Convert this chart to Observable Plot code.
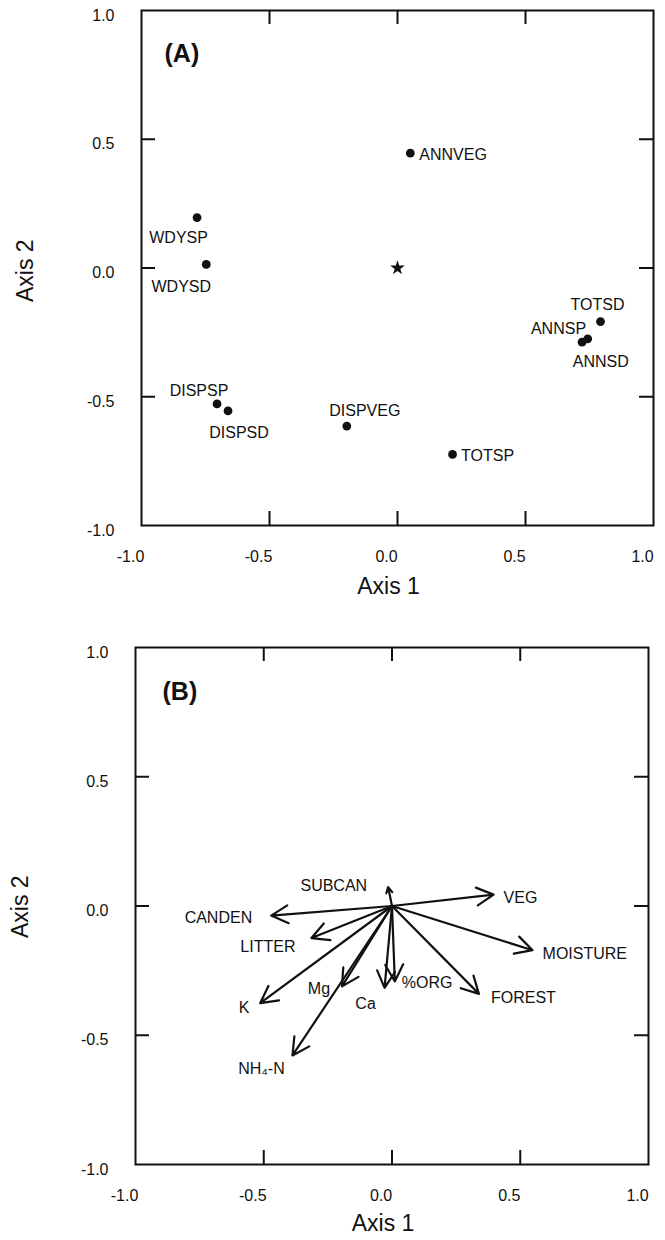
<!DOCTYPE html>
<html>
<head>
<meta charset="utf-8">
<script src="https://cdn.jsdelivr.net/npm/d3@7"></script>
<script src="https://cdn.jsdelivr.net/npm/@observablehq/plot@0.6"></script>
<style>
  body { margin: 0; background: #fff; }
  #chart svg { display: block; }
</style>
</head>
<body>
<div id="chart"></div>
<script>
// ---------- Panel (A): species-group scores ----------
const groupNames = ["WDYSP", "WDYSD", "ANNVEG", "TOTSD", "ANNSP", "ANNSD", "DISPSP", "DISPSD", "DISPVEG", "TOTSP"];
const groupAxis1 = [-0.783, -0.747, 0.050, 0.793, 0.721, 0.743, -0.705, -0.662, -0.198, 0.215];
const groupAxis2 = [0.196, 0.014, 0.446, -0.208, -0.288, -0.275, -0.528, -0.555, -0.614, -0.724];
const centroidAxis1 = [0.0];
const centroidAxis2 = [0.0];

// ---------- Panel (B): environmental vectors ----------
const envNames = ["SUBCAN", "VEG", "CANDEN", "LITTER", "MOISTURE", "K", "Mg", "Ca", "%ORG", "FOREST", "NH\u2084-N"];
const envAxis1 = [-0.015, 0.396, -0.471, -0.314, 0.548, -0.514, -0.195, -0.029, 0.011, 0.339, -0.388];
const envAxis2 = [0.073, 0.044, -0.037, -0.124, -0.171, -0.376, -0.311, -0.317, -0.292, -0.340, -0.578];

// ---------- Axes ----------
const tickValues = [-1, -0.5, 0, 0.5, 1];
const innerTickValues = [-0.5, 0, 0.5];
const xTitle = "Axis 1";
const yTitle = "Axis 2";

// ---------- Label placement (styling, pixels) ----------
const placeA = {
  WDYSP:   {a: "middle", dx: -18.5, dy: 20},
  WDYSD:   {a: "middle", dx: -25,   dy: 22},
  ANNVEG:  {a: "start",  dx: 9,     dy: 2},
  TOTSD:   {a: "middle", dx: -3,    dy: -17},
  ANNSP:   {a: "end",    dx: 4,     dy: -13},
  ANNSD:   {a: "middle", dx: 13,    dy: 23},
  DISPSP:  {a: "middle", dx: -18,   dy: -13},
  DISPSD:  {a: "middle", dx: 11,    dy: 22},
  DISPVEG: {a: "middle", dx: 18,    dy: -15},
  TOTSP:   {a: "start",  dx: 8.5,   dy: 1.5}
};
const placeB = {
  "SUBCAN":   {a: "end",    dx: -21, dy: -1},
  "VEG":      {a: "start",  dx: 10,  dy: 3},
  "CANDEN":   {a: "end",    dx: -19, dy: 2},
  "LITTER":   {a: "end",    dx: -16, dy: 9},
  "MOISTURE": {a: "start",  dx: 10,  dy: 4},
  "K":        {a: "middle", dx: -16, dy: 5},
  "Mg":       {a: "middle", dx: -23, dy: 2},
  "Ca":       {a: "middle", dx: -19, dy: 16},
  "%ORG":     {a: "start",  dx: 7,   dy: 1},
  "FOREST":   {a: "start",  dx: 12,  dy: 4},
  "NH\u2084-N": {a: "middle", dx: -31, dy: 13}
};

const groups = groupNames.map((name, i) => ({name, x: groupAxis1[i], y: groupAxis2[i]}));
const centroid = centroidAxis1.map((x, i) => ({x, y: centroidAxis2[i]}));
const env = envNames.map((name, i) => ({name, x: envAxis1[i], y: envAxis2[i]}));

const W = 665;
const INK = "#111";
const FONT = "'Liberation Sans', Arial, Helvetica, sans-serif";

function frameMarks(iw, ih) {
  const t = 14;
  return [
    Plot.frame({stroke: INK, strokeWidth: 2}),
    Plot.tickX(innerTickValues, {x: d => d, insetTop: ih - t, stroke: INK, strokeWidth: 2}),
    Plot.tickX(innerTickValues, {x: d => d, insetBottom: ih - t, stroke: INK, strokeWidth: 2}),
    Plot.tickY(innerTickValues, {y: d => d, insetRight: iw - t, stroke: INK, strokeWidth: 2}),
    Plot.tickY(innerTickValues, {y: d => d, insetLeft: iw - t, stroke: INK, strokeWidth: 2}),
    Plot.axisX({ticks: tickValues, tickFormat: d => d.toFixed(1), tickSize: 0, tickPadding: 25,
                dx: -11, fontSize: 16, fill: INK, label: null}),
    Plot.axisY({ticks: tickValues, tickFormat: d => d.toFixed(1), tickSize: 0, tickPadding: 27,
                dy: 5, fontSize: 16, fill: INK, label: null})
  ];
}

function titleMarks(panel, o) {
  return [
    Plot.text([panel], {frameAnchor: "top-left", textAnchor: "start", dx: o.pdx, dy: o.pdy,
                        fontSize: 25, fontWeight: "bold", fill: INK}),
    Plot.text([xTitle], {frameAnchor: "bottom", dx: -9, dy: o.xdy, fontSize: 23, fill: INK}),
    Plot.text([yTitle], {frameAnchor: "left", rotate: -90, dx: o.ydx, dy: o.ydy, fontSize: 23, fill: INK})
  ];
}

// ----- Panel A -----
{
  const H = 620, mt = 10, mb = 95, ml = 141, mr = 12;
  const iw = W - ml - mr, ih = H - mt - mb;
  const labelMarks = groups.map(d => {
    const p = placeA[d.name];
    return Plot.text([d], {x: "x", y: "y", text: "name", textAnchor: p.a, dx: p.dx, dy: p.dy,
                           fontSize: 16, fill: INK});
  });
  const chart = Plot.plot({
    width: W, height: H, marginTop: mt, marginBottom: mb, marginLeft: ml, marginRight: mr,
    x: {domain: [-1, 1]}, y: {domain: [-1, 1]},
    style: {fontFamily: FONT, background: "#fff", color: INK},
    marks: [
      ...frameMarks(iw, ih),
      Plot.dot(groups, {x: "x", y: "y", r: 4.4, fill: INK, stroke: "none"}),
      Plot.dot(centroid, {x: "x", y: "y", symbol: "star", r: 4.6, fill: INK, stroke: "none"}),
      ...labelMarks,
      ...titleMarks("(A)", {pdx: 23, pdy: 34, xdy: 68, ydx: -116, ydy: 34})
    ]
  });
  document.getElementById("chart").append(chart);
}

// ----- Panel B -----
{
  const H = 620, mt = 27, mb = 76, ml = 135, mr = 17;
  const iw = W - ml - mr, ih = H - mt - mb;
  const labelMarks = env.map(d => {
    const p = placeB[d.name];
    return Plot.text([d], {x: "x", y: "y", text: "name", textAnchor: p.a, dx: p.dx, dy: p.dy,
                           fontSize: 16, fill: INK});
  });
  const chart = Plot.plot({
    width: W, height: H, marginTop: mt, marginBottom: mb, marginLeft: ml, marginRight: mr,
    x: {domain: [-1, 1]}, y: {domain: [-1, 1]},
    style: {fontFamily: FONT, background: "#fff", color: INK},
    marks: [
      ...frameMarks(iw, ih),
      Plot.arrow(env, {x1: 0, y1: 0, x2: "x", y2: "y", stroke: INK, strokeWidth: 2.2,
                       headLength: 13, headAngle: 56}),
      ...labelMarks,
      ...titleMarks("(B)", {pdx: 27, pdy: 35, xdy: 66, ydx: -115, ydy: 32})
    ]
  });
  document.getElementById("chart").append(chart);
}
</script>
</body>
</html>
